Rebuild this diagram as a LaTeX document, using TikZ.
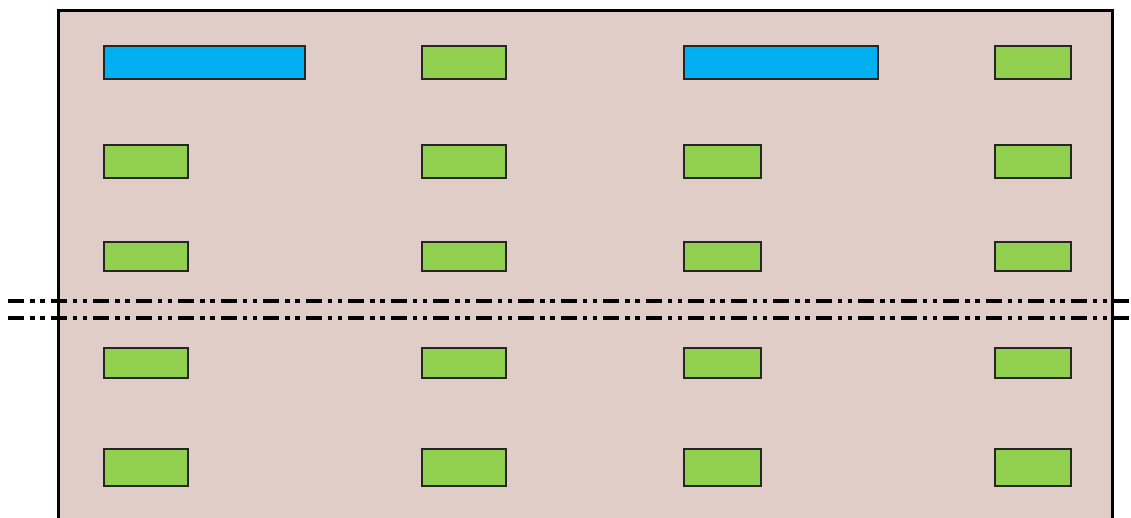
\documentclass[tikz,border=0pt]{standalone}
\definecolor{bgpink}{RGB}{224,205,199}
\definecolor{boxblue}{RGB}{0,176,240}
\definecolor{boxgreen}{RGB}{146,208,80}
\tikzset{
  frame/.style={draw=black, line width=3pt, fill=bgpink},
  gbox/.style={draw=black!85, line width=1.4pt, fill=boxgreen},
  bbox/.style={draw=black!85, line width=1.4pt, fill=boxblue},
  axisline/.style={draw=black, line width=4pt, dash pattern=on 16pt off 6pt on 4.5pt off 5.5pt on 4.5pt off 6pt}
}
\begin{document}
\begin{tikzpicture}[x=1pt,y=-1pt]
\useasboundingbox (0,0) rectangle (1131,518);
\clip (0,0) rectangle (1131,518);
\path[frame] (58.5,11) rectangle (1112,540);
% row 1
\path[bbox] (104,46) rectangle (305,79);
\path[gbox] (422,46) rectangle (506,79);
\path[bbox] (684,46) rectangle (878,79);
\path[gbox] (995,46) rectangle (1071,79);
% rows 2-5
\foreach \xa/\xb in {104/188,422/506,684/761,995/1071}{
  \path[gbox] (\xa,145) rectangle (\xb,178);
  \path[gbox] (\xa,242) rectangle (\xb,271);
  \path[gbox] (\xa,348) rectangle (\xb,378);
  \path[gbox] (\xa,449) rectangle (\xb,486);
}
\coordinate (l1a) at (8,301);
\coordinate (l1b) at (1131,301);
\coordinate (l2a) at (8,318);
\coordinate (l2b) at (1131,318);
\draw[axisline] (l1a) -- (l1b);
\draw[axisline] (l2a) -- (l2b);
\end{tikzpicture}
\end{document}
